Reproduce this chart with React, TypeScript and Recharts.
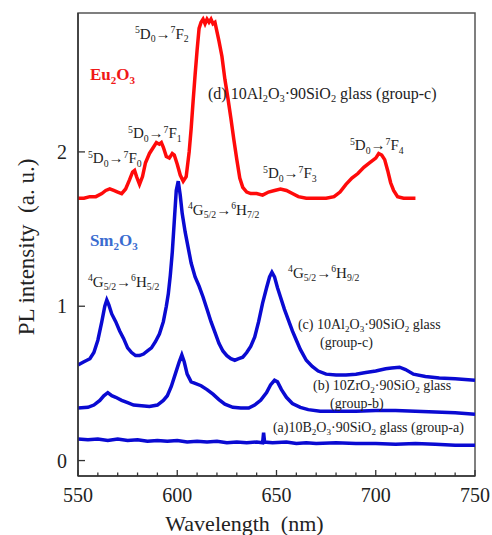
import { LineChart, Line, XAxis, YAxis, ReferenceArea, ReferenceDot } from "recharts";

// Eu2O3 doped 10Al2O3·90SiO2 glass (group-c)
const euWavelength = [550, 553, 556, 559, 562, 564, 566, 568, 570, 572, 574, 576, 577.5, 578.5, 579.5, 581, 582.5, 584, 586, 588, 589.5, 591, 592, 593, 594.5, 596, 597.5, 598.5, 600, 601.5, 603, 604.5, 606, 607, 608, 609, 610, 611, 612, 613, 614, 615, 616, 617, 618, 619, 620, 621, 622.5, 624, 625.5, 627, 628.5, 630, 631.5, 633, 635, 637, 640, 643, 646, 649, 652, 655, 658, 661, 665, 670, 675, 679, 682, 685, 688, 691, 694, 697, 700, 701.5, 703, 704.5, 706, 707.5, 709, 711, 714, 717, 720];
const euIntensity = [1.70, 1.70, 1.71, 1.71, 1.73, 1.75, 1.76, 1.75, 1.74, 1.73, 1.76, 1.82, 1.87, 1.88, 1.84, 1.79, 1.84, 1.93, 1.99, 2.03, 2.06, 2.05, 2.06, 2.03, 1.97, 1.96, 1.99, 1.98, 1.92, 1.85, 1.81, 1.84, 2.0, 2.15, 2.33, 2.5, 2.66, 2.8, 2.84, 2.86, 2.83, 2.86, 2.84, 2.86, 2.83, 2.84, 2.78, 2.72, 2.62, 2.47, 2.35, 2.22, 2.08, 1.95, 1.83, 1.77, 1.74, 1.73, 1.73, 1.72, 1.74, 1.75, 1.76, 1.75, 1.73, 1.71, 1.70, 1.70, 1.70, 1.71, 1.74, 1.79, 1.83, 1.86, 1.90, 1.93, 1.96, 1.99, 1.98, 1.95, 1.88, 1.80, 1.75, 1.71, 1.70, 1.70, 1.70];

// Sm2O3 group-c
const smCWavelength = [550, 553, 556, 558, 560, 562, 563.5, 564.5, 565.5, 567, 569, 571, 573, 575, 577, 579, 581, 583, 585, 587, 589, 591, 593, 594.5, 595.5, 596.5, 597.5, 598.5, 599.5, 600.5, 601.5, 602.5, 604, 605.5, 607, 609, 611, 613, 615, 617, 619, 621, 623, 625, 627, 629, 631, 633, 635, 637, 639, 641, 643, 645, 646.5, 647.7, 649, 650.5, 652, 654, 656, 658, 660, 662, 665, 668, 671, 675, 680, 685, 690, 695, 700, 705, 708, 712, 715, 719, 725, 732, 740, 750];
const smCIntensity = [0.62, 0.64, 0.66, 0.70, 0.78, 0.90, 1.00, 1.04, 1.01, 0.95, 0.90, 0.84, 0.79, 0.73, 0.70, 0.68, 0.68, 0.69, 0.71, 0.73, 0.77, 0.82, 0.90, 1.00, 1.08, 1.20, 1.35, 1.55, 1.75, 1.81, 1.72, 1.60, 1.48, 1.38, 1.28, 1.19, 1.13, 1.06, 0.98, 0.90, 0.83, 0.76, 0.71, 0.68, 0.66, 0.65, 0.66, 0.67, 0.70, 0.74, 0.80, 0.90, 1.02, 1.12, 1.19, 1.22, 1.19, 1.12, 1.06, 0.98, 0.91, 0.84, 0.78, 0.72, 0.65, 0.61, 0.58, 0.56, 0.555, 0.555, 0.56, 0.57, 0.58, 0.595, 0.60, 0.605, 0.59, 0.56, 0.545, 0.535, 0.53, 0.52];

// Sm2O3 group-b
const smBWavelength = [550, 555, 558, 561, 563, 565, 567, 569, 572, 575, 578, 582, 586, 590, 593, 595, 597, 599, 601, 602.3, 603.5, 605, 607, 609, 612, 615, 618, 621, 624, 628, 632, 636, 639, 642, 645, 647, 649, 650.5, 652.5, 655, 658, 662, 666, 672, 680, 690, 700, 710, 720, 730, 740, 750];
const smBIntensity = [0.34, 0.345, 0.36, 0.39, 0.42, 0.44, 0.42, 0.41, 0.39, 0.375, 0.36, 0.355, 0.35, 0.36, 0.39, 0.42, 0.48, 0.56, 0.64, 0.685, 0.64, 0.56, 0.51, 0.50, 0.485, 0.46, 0.43, 0.395, 0.365, 0.345, 0.34, 0.34, 0.36, 0.39, 0.44, 0.49, 0.52, 0.51, 0.46, 0.41, 0.37, 0.345, 0.33, 0.32, 0.32, 0.32, 0.325, 0.325, 0.32, 0.315, 0.31, 0.30];

// Sm2O3 group-a
const smAWavelength = [550, 555, 560, 565, 570, 575, 580, 585, 590, 595, 600, 605, 610, 615, 620, 625, 630, 635, 640, 643, 643.5, 644, 648, 655, 660, 665, 670, 680, 690, 700, 710, 720, 730, 740, 750];
const smAIntensity = [0.14, 0.135, 0.14, 0.13, 0.14, 0.13, 0.135, 0.125, 0.13, 0.125, 0.13, 0.12, 0.125, 0.12, 0.125, 0.115, 0.12, 0.115, 0.12, 0.115, 0.18, 0.12, 0.115, 0.12, 0.11, 0.115, 0.11, 0.115, 0.11, 0.11, 0.105, 0.11, 0.105, 0.10, 0.10];

const xTicks = [550, 560, 570, 580, 590, 600, 610, 620, 630, 640, 650, 660, 670, 680, 690, 700, 710, 720, 730, 740, 750];
const yTicks = [0, 1, 2];

// text notes: markup, anchor wavelength, anchor intensity, font size
const notes = [
  { t: "^{5}D_{0}→^{7}F_{2}", x: 578.7, y: 2.734, s: 15 },
  { t: "(d) 10Al_{2}O_{3}·90SiO_{2} glass (group-c)", x: 615.5, y: 2.346, s: 16 },
  { t: "^{5}D_{0}→^{7}F_{1}", x: 575.2, y: 2.088, s: 15 },
  { t: "^{5}D_{0}→^{7}F_{0}", x: 555.0, y: 1.926, s: 15 },
  { t: "^{5}D_{0}→^{7}F_{3}", x: 643.2, y: 1.829, s: 15 },
  { t: "^{5}D_{0}→^{7}F_{4}", x: 687.0, y: 2.01, s: 15 },
  { t: "^{4}G_{5/2}→^{6}H_{7/2}", x: 605.4, y: 1.59, s: 15 },
  { t: "^{4}G_{5/2}→^{6}H_{5/2}", x: 555.0, y: 1.125, s: 15 },
  { t: "^{4}G_{5/2}→^{6}H_{9/2}", x: 655.8, y: 1.183, s: 15 },
  { t: "(c) 10Al_{2}O_{3}·90SiO_{2} glass", x: 660.8, y: 0.853, s: 14 },
  { t: "(group-c)", x: 671.9, y: 0.737, s: 14 },
  { t: "(b) 10ZrO_{2}·90SiO_{2} glass", x: 668.4, y: 0.459, s: 14 },
  { t: "(group-b)", x: 677.0, y: 0.343, s: 14 },
  { t: "(a)10B_{2}O_{3}·90SiO_{2} glass (group-a)", x: 648.2, y: 0.187, s: 14 },
];

const zip = (xs: number[], ys: number[]) => xs.map((w, i) => ({ w, v: ys[i] }));

const FONT = '"Liberation Serif", "Times New Roman", serif';
const AXIS = "#333";

function Rich({ x, y, markup, size, fill = "#222", weight = "normal" }: any) {
  const parts: string[] = markup.match(/\^\{[^}]*\}|_\{[^}]*\}|[^^_]+/g) || [];
  let shift = 0;
  return (
    <text x={x} y={y} fontSize={size} fill={fill} fontWeight={weight} style={{ fontFamily: FONT }}>
      {parts.map((p, i) => {
        let mode = "n";
        let txt = p;
        if (p.startsWith("^{")) { mode = "sup"; txt = p.slice(2, -1); }
        else if (p.startsWith("_{")) { mode = "sub"; txt = p.slice(2, -1); }
        const target = mode === "sup" ? -0.38 * size : mode === "sub" ? 0.22 * size : 0;
        const dy = target - shift;
        shift = target;
        return (
          <tspan key={i} dy={dy} fontSize={mode === "n" ? size : size * 0.65}>
            {txt}
          </tspan>
        );
      })}
    </text>
  );
}

// tickSize 0 / tickMargin 0, so x,y here sit on the axis line
const XTick = ({ x, y, payload }: any) => {
  const major = payload.value % 50 === 0;
  return (
    <g>
      <line x1={x} x2={x} y1={y} y2={y - (major ? 6 : 3.5)} stroke={AXIS} strokeWidth={1.3} />
      {major && (
        <text x={x} y={y + 26} textAnchor="middle" fontSize={20} style={{ fontFamily: FONT }} fill="#222">
          {payload.value}
        </text>
      )}
    </g>
  );
};

const YTick = ({ x, y, payload }: any) => (
  <g>
    <line x1={x} x2={x + 7} y1={y} y2={y} stroke={AXIS} strokeWidth={1.3} />
    <text x={x - 11} y={y + 7} textAnchor="end" fontSize={20} style={{ fontFamily: FONT }} fill="#222">
      {payload.value}
    </text>
  </g>
);

export default function App() {
  return (
    <div style={{ position: "absolute", left: 0, top: 0, background: "#fff" }}>
      <LineChart width={492} height={535} margin={{ top: 13, right: 17, bottom: 29, left: 18 }}>
        <XAxis
          dataKey="w"
          type="number"
          domain={[550, 750]}
          ticks={xTicks}
          interval={0}
          allowDataOverflow
          height={30}
          tickSize={0}
          tickMargin={0}
          tick={(p: any) => <XTick {...p} />}
          axisLine={{ stroke: AXIS, strokeWidth: 1.5 }}
          label={{
            content: ({ viewBox }: any) => (
              <text x={viewBox.x + viewBox.width / 2 - 32} y={viewBox.y + 55} textAnchor="middle" fontSize={22} style={{ fontFamily: FONT }} fill="#222">
                {"Wavelength\u00a0\u00a0(nm)"}
              </text>
            ),
          }}
        />
        <YAxis
          type="number"
          domain={[-0.1, 2.9]}
          ticks={yTicks}
          interval={0}
          allowDataOverflow
          width={60}
          tickSize={0}
          tickMargin={0}
          tick={(p: any) => <YTick {...p} />}
          axisLine={{ stroke: AXIS, strokeWidth: 1.5 }}
          label={{
            content: ({ viewBox }: any) => {
              const cx = viewBox.x + viewBox.width - 52;
              const cy = 247;
              return (
                <text x={cx} y={cy} transform={`rotate(-90 ${cx} ${cy})`} textAnchor="middle" dominantBaseline="central" fontSize={23} style={{ fontFamily: FONT }} fill="#222">
                  {"PL intensity\u00a0\u00a0(a. u.)"}
                </text>
              );
            },
          }}
        />
        <ReferenceArea x1={550} x2={750} y1={-0.1} y2={2.9} fill="none" stroke="#555" strokeWidth={1.5} ifOverflow="visible" />
        <Line data={zip(smAWavelength, smAIntensity)} dataKey="v" type="linear" stroke="#0a0ad2" strokeWidth={3.5} dot={false} isAnimationActive={false} />
        <Line data={zip(smBWavelength, smBIntensity)} dataKey="v" type="linear" stroke="#0a0ad2" strokeWidth={3.5} dot={false} isAnimationActive={false} />
        <Line data={zip(smCWavelength, smCIntensity)} dataKey="v" type="linear" stroke="#0a0ad2" strokeWidth={3.5} dot={false} isAnimationActive={false} />
        <Line data={zip(euWavelength, euIntensity)} dataKey="v" type="linear" stroke="#ff0a0a" strokeWidth={3.5} dot={false} isAnimationActive={false} />
        {notes.map((n, i) => (
          <ReferenceDot
            key={i}
            x={n.x}
            y={n.y}
            r={1}
            ifOverflow="visible"
            shape={(p: any) => <Rich x={p.cx} y={p.cy} markup={n.t} size={n.s} />}
          />
        ))}
        <ReferenceDot
          x={556}
          y={2.463}
          r={1}
          ifOverflow="visible"
          shape={(p: any) => <Rich x={p.cx} y={p.cy} markup="Eu_{2}O_{3}" size={17} fill="#f01818" weight="bold" />}
        />
        <ReferenceDot
          x={556}
          y={1.39}
          r={1}
          ifOverflow="visible"
          shape={(p: any) => <Rich x={p.cx} y={p.cy} markup="Sm_{2}O_{3}" size={17} fill="#3a6cd0" weight="bold" />}
        />
      </LineChart>
    </div>
  );
}
